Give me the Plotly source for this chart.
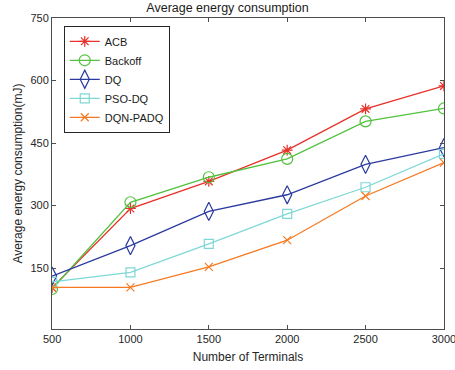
import plotly.graph_objects as go

terminals = [500, 1000, 1500, 2000, 2500, 3000]
acb = [103, 293, 358, 433, 532, 587]
backoff = [100, 308, 368, 412, 502, 533]
dq = [131, 204, 286, 326, 399, 439]
pso_dq = [117, 140, 208, 280, 344, 424]
dqn_padq = [104, 104, 153, 217, 323, 403]
y_ticks = [150, 300, 450, 600, 750]

series = [
    ("ACB", acb, "#e8302a", "asterisk-open", 9),
    ("Backoff", backoff, "#52c23e", "circle-open", 11),
    ("DQ", dq, "#2a3a9e", "diamond-tall-open", 13),
    ("PSO-DQ", pso_dq, "#7ed8d6", "square-open", 9),
    ("DQN-PADQ", dqn_padq, "#f57a22", "x-thin-open", 8),
]

fig = go.Figure()
for name, vals, color, sym, sz in series:
    fig.add_trace(go.Scatter(
        x=terminals, y=vals, name=name, mode="lines+markers",
        line=dict(color=color, width=1.3),
        marker=dict(symbol=sym, size=sz, color=color, line=dict(color=color, width=1.2)),
    ))

axis_common = dict(
    showgrid=False, zeroline=False, showline=True, linecolor="#4d4d4d", linewidth=1,
    mirror="ticks", ticks="inside", ticklen=4, tickcolor="#4d4d4d",
    tickfont=dict(family="Liberation Sans, Arial", size=11, color="#262626"),
    ticklabeloverflow="allow", automargin=False,
)

fig.update_layout(
    width=455, height=370,
    margin=dict(l=52, r=11, t=18, b=41),
    paper_bgcolor="white", plot_bgcolor="white",
    title=dict(text="Average energy consumption", x=0.5, xanchor="center", y=0.99, yanchor="top",
               font=dict(family="Liberation Sans, Arial", size=12.5, color="#1a1a1a")),
    xaxis=dict(range=[499.5, 3000.5], tickvals=terminals,
               title=dict(text="Number of Terminals", standoff=8,
                          font=dict(family="Liberation Sans, Arial", size=12, color="#262626")),
               **axis_common),
    yaxis=dict(range=[4, 750], tickvals=y_ticks,
               title=dict(text="Average energy consumption(mJ)", standoff=5,
                          font=dict(family="Liberation Sans, Arial", size=12, color="#262626")),
               **axis_common),
    legend=dict(x=0.03, y=0.975, xanchor="left", yanchor="top",
                bgcolor="white", bordercolor="#262626", borderwidth=1,
                font=dict(family="Liberation Sans, Arial", size=11, color="#1a1a1a"),
                tracegroupgap=0, itemwidth=30),
    showlegend=True,
)

fig.write_html("out.html")
